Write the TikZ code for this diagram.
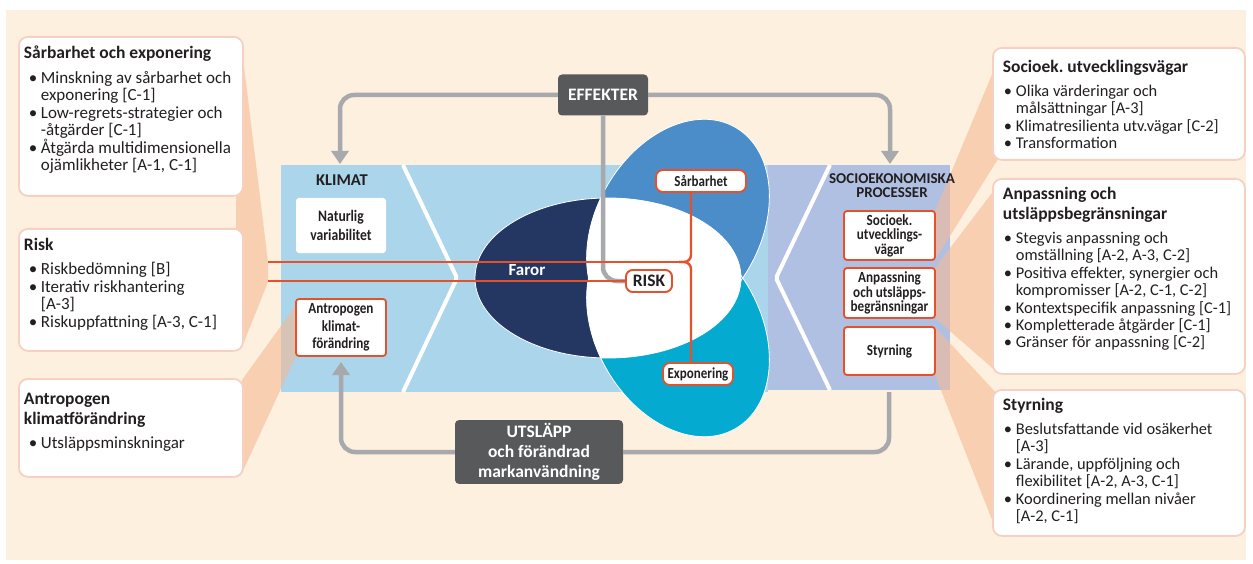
\documentclass[tikz,border=0pt]{standalone}
\usepackage{fontspec}
\setmainfont{Carlito}
\newfontfamily\condfont[FakeStretch=0.85]{Carlito}
\usetikzlibrary{arrows.meta,positioning,calc}
\frenchspacing

\definecolor{pagepeach}{HTML}{FDF0DE}
\definecolor{wedgepeach}{HTML}{F5BA94}
\definecolor{boxedge}{HTML}{F6D0C2}
\definecolor{klimblue}{HTML}{AAD5EA}
\definecolor{socilav}{HTML}{B0C0E2}
\definecolor{faronavy}{HTML}{243763}
\definecolor{sarbblue}{HTML}{4A8DC9}
\definecolor{expcyan}{HTML}{05AAD1}
\definecolor{riskorange}{HTML}{E4512A}
\definecolor{darkgrey}{HTML}{58595B}
\definecolor{flowgrey}{HTML}{A7A9AC}
\definecolor{inktext}{HTML}{231F20}

% bullet line with hanging indent
\newcommand{\bul}[2][5pt]{\par\hangindent=\dimexpr#1+12pt\relax\hangafter=1\noindent\hspace*{#1}\makebox[12pt][l]{\textbullet}#2}
\newcommand{\boxtitle}[1]{{\bfseries\fontsize{17.5}{20}\selectfont #1\par}\vspace{7pt}}

\begin{document}
\begin{tikzpicture}[
    x=1pt, y=-1pt,
    infobox/.style={draw=boxedge, line width=1.8pt, fill=white, rounded corners=9pt,
        anchor=north west, inner xsep=5pt, inner ysep=9pt, text=inktext,
        font=\fontsize{17}{17.5}\selectfont},
    rinfobox/.style={infobox, inner xsep=10pt, inner ysep=8pt, font=\fontsize{16.4}{17.4}\selectfont},
    factor/.style={fill=white, rounded corners=3pt, text=inktext, align=center,
        inner sep=1pt, font=\condfont\bfseries\fontsize{16}{18}\selectfont},
    keyfactor/.style={factor, draw=riskorange, line width=1.8pt},
    risktag/.style={keyfactor, rounded corners=7pt, minimum height=22pt},
    headline/.style={text=inktext, align=center, font=\bfseries\fontsize{16}{14}\selectfont},
    darkbox/.style={fill=darkgrey, rounded corners=4pt, text=white, align=center,
        font=\bfseries\fontsize{17.5}{20}\selectfont},
    flowline/.style={draw=flowgrey, line width=4.5pt, rounded corners=14pt},
    flowto/.style={flowline, -{Triangle[width=17pt,length=13pt]}},
    riskline/.style={draw=riskorange, line width=2.4pt},
    wedge/.style={fill=wedgepeach, fill opacity=0.6},
]
    \fill[white] (0,0) rectangle (1253,564);
    \fill[pagepeach] (6,10) rectangle (1246,560);
    \useasboundingbox (0,0) rectangle (1253,564);

    % panels
    \fill[klimblue] (281,165) rectangle (768,392);
    \fill[socilav] (768,165) rectangle (950,390);
    \draw[white, line width=4pt, rounded corners=2pt] (403,165) -- (457,278) -- (403,392);
    \draw[white, line width=4pt, rounded corners=2pt] (830,165) -- (776,278) -- (830,390);

    % wedges to the side boxes
    \fill[wedge] (236,50) -- (242,50) -- (268,262) -- (268,282) -- (242,347) -- (236,347) -- cycle;
    \fill[wedge] (242,380) -- (296,305) -- (296,356) -- (242,473) -- cycle;
    \fill[wedge] (998,60) -- (935,211) -- (935,260) -- (998,159) -- cycle;
    \fill[wedge] (998,185) -- (935,268) -- (935,318) -- (998,373) -- cycle;
    \fill[wedge] (998,395) -- (935,327) -- (935,375) -- (998,535) -- cycle;

    % hazard, vulnerability, exposure
    \fill[faronavy] (608,278) ellipse [x radius=133, y radius=80];
    \fill[sarbblue, rotate around={60:(678,227)}] (678,227) ellipse [x radius=115, y radius=82];
    \fill[expcyan, rotate around={-60:(678,329)}] (678,329) ellipse [x radius=115, y radius=82];
    \begin{scope}
        \clip (608,278) ellipse [x radius=133, y radius=80];
        \fill[white, rotate around={60:(678,227)}] (678,227) ellipse [x radius=115, y radius=82];
        \fill[white, rotate around={-60:(678,329)}] (678,329) ellipse [x radius=115, y radius=82];
    \end{scope}
    \draw[white, line width=0.8pt] (608,278) ellipse [x radius=133, y radius=80];
    \draw[white, line width=0.8pt, rotate around={60:(678,227)}] (678,227) ellipse [x radius=115, y radius=82];
    \draw[white, line width=0.8pt, rotate around={-60:(678,329)}] (678,329) ellipse [x radius=115, y radius=82];

    % side boxes, left
    \node[infobox] (sarbox) at (18,36) {\parbox[t][141pt][t]{214pt}{\raggedright
        \boxtitle{Sårbarhet och exponering}
        \bul{Minskning av sårbarhet och\newline exponering [C-1]}
        \bul{Low-regrets-strategier och\newline -åtgärder [C-1]}
        \bul{Åtgärda multidimensionella\newline ojämlikheter [A-1, C-1]}}};
    \node[infobox] (riskbox) at (18,228) {\parbox[t][104pt][t]{214pt}{\raggedright
        \boxtitle{Risk}
        \bul{Riskbedömning [B]}
        \bul{Iterativ riskhantering\newline [A-3]}
        \bul{Riskuppfattning [A-3, C-1]}}};
    \node[infobox, inner ysep=14pt] (antrbox) at (18,378) {\parbox[t][70pt][t]{214pt}{\raggedright
        \boxtitle{Antropogen\newline klimatförändring}
        \bul{Utsläppsminskningar}}};

    % side boxes, right
    \node[rinfobox, inner ysep=12pt] (socbox) at (992,47) {\parbox[t][88pt][t]{232pt}{\raggedright
        \boxtitle{Socioek. utvecklingsvägar}
        \bul[1pt]{Olika värderingar och\newline målsättningar [A-3]}
        \bul[1pt]{Klimatresilienta utv.vägar [C-2]}
        \bul[1pt]{Transformation}}};
    \node[rinfobox] (anpbox) at (992,178) {\parbox[t][179pt][t]{232pt}{\raggedright
        \boxtitle{Anpassning och\newline utsläppsbegränsningar}
        \bul[1pt]{Stegvis anpassning och\newline omställning [A-2, A-3, C-2]}
        \bul[1pt]{Positiva effekter, synergier och\newline kompromisser [A-2, C-1, C-2]}
        \bul[1pt]{Kontextspecifik anpassning [C-1]}
        \bul[1pt]{Kompletterade åtgärder [C-1]}
        \bul[1pt]{Gränser för anpassning [C-2]}}};
    \node[rinfobox] (stybox) at (992,389) {\parbox[t][130pt][t]{232pt}{\raggedright
        \boxtitle{Styrning}
        \bul[1pt]{Beslutsfattande vid osäkerhet\newline [A-3]}
        \bul[1pt]{Lärande, uppföljning och\newline flexibilitet [A-2, A-3, C-1]}
        \bul[1pt]{Koordinering mellan nivåer\newline [A-2, C-1]}}};

    % panel contents
    \node[headline, font=\bfseries\fontsize{16.5}{20}\selectfont] (klimat) at (342,180) {KLIMAT};
    \node[factor, minimum width=90pt, minimum height=55pt, font=\condfont\bfseries\fontsize{16}{19}\selectfont] (natur) at (341,225.5) {Naturlig\\variabilitet};
    \node[keyfactor, minimum width=90pt, minimum height=57pt, font=\condfont\bfseries\fontsize{15.5}{17.3}\selectfont] (antro) at (341,327.5) {Antropogen\\klimat-\\förändring};
    \node[headline, font=\bfseries\fontsize{15}{14}\selectfont] (socio) at (892,186) {SOCIOEKONOMISKA\\PROCESSER};
    \node[keyfactor, minimum width=91pt, minimum height=49pt, font=\condfont\bfseries\fontsize{15.5}{14.5}\selectfont] (socvag) at (889.5,235.5) {Socioek.\\utvecklings-\\vägar};
    \node[keyfactor, minimum width=91pt, minimum height=50pt, font=\condfont\bfseries\fontsize{15.5}{14.5}\selectfont] (anpass) at (889.5,293) {Anpassning\\och utsläpps-\\begränsningar};
    \node[keyfactor, minimum width=91pt, minimum height=48pt, font=\condfont\bfseries\fontsize{15.5}{14.5}\selectfont] (styr) at (889.5,351) {Styrning};
    \node[text=white, font=\bfseries\fontsize{17}{20}\selectfont] (faror) at (527,270) {Faror};

    % flows
    \node[darkbox, minimum width=90pt, minimum height=41pt] (effekt) at (603,95) {EFFEKTER};
    \node[darkbox, minimum width=168pt, minimum height=63pt] (utsl) at (539,452) {UTSLÄPP\\och förändrad\\markanvändning};
    \node[risktag, minimum width=46pt, font=\bfseries\fontsize{17.5}{20}\selectfont] (risk) at (649,281) {RISK};
    \node[risktag, minimum width=90pt, font=\condfont\bfseries\fontsize{15.3}{18}\selectfont] (sarb) at (701,181) {Sårbarhet};
    \node[risktag, minimum width=70pt, font=\condfont\bfseries\fontsize{15.3}{18}\selectfont] (expo) at (698,374) {Exponering};

    \coordinate (klimtop) at (340,164);
    \coordinate (socitop) at (890,164);
    \coordinate (antrbase) at (341,362);
    \coordinate (socbase) at (889,392);
    \draw[flowto] (effekt.west) -| (klimtop);
    \draw[flowto] (effekt.east) -| (socitop);
    \draw[flowline] (effekt.south) |- (risk.west);
    \draw[flowto] (utsl.west) -| (antrbase);
    \draw[flowline] (socbase) |- (utsl.east);

    % risk links
    \coordinate (hazin) at (268,262);
    \coordinate (riskin) at (268,281);
    \coordinate (brace) at (679,262);
    \coordinate (brx) at (691,262);
    \draw[riskline] (hazin) -- (brace);
    \draw[riskline] (riskin) -- (risk.west);
    \draw[riskline, rounded corners=7pt] (sarb.south -| brx) -- (brx) -- (brace);
    \draw[riskline, rounded corners=7pt] (brace) -- (brx) -- (expo.north -| brx);
    \node[risktag, minimum width=46pt, font=\bfseries\fontsize{17.5}{20}\selectfont] at (risk) {RISK};
\end{tikzpicture}
\end{document}
